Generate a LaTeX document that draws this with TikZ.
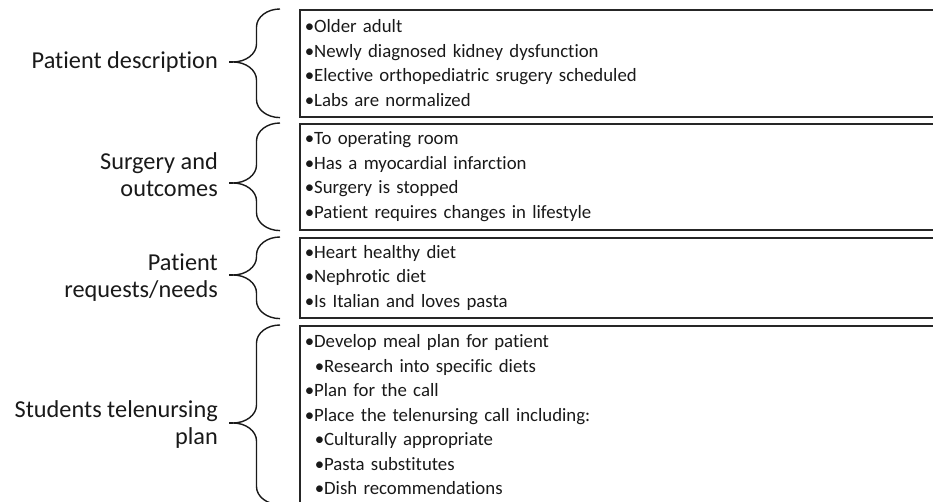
\documentclass[tikz,border=0pt]{standalone}
\usepackage{fontspec}
\setmainfont{Carlito}[Ligatures=NoCommon]
\usetikzlibrary{calc}
\tikzset{
  tnbox/.style={
    rectangle, draw=black!85, line width=1.6pt, anchor=north west,
    text width=630pt, inner xsep=5pt, inner ysep=0pt,
    align=left, font=\fontsize{18.8}{24.5}\selectfont
  },
  tnlabel/.style={anchor=east, align=right, inner sep=0pt, font=\fontsize{24.3}{27}\selectfont},
  tnbrace/.style={draw=black!90, line width=1.4pt},
}

\begin{document}
\begin{tikzpicture}[x=1pt, y=1pt, text=black!90]
  \path[use as bounding box, clip] (0,0) rectangle (933,502);
  % boxes on the right
  \node (b1) [tnbox, minimum height=107pt] at (299,493) {•Older adult\\•Newly diagnosed kidney dysfunction\\•Elective orthopediatric srugery scheduled\\•Labs are normalized};
  \node (b2) [tnbox, minimum height=106pt] at (299,379) {•To operating room\\•Has a myocardial infarction\\•Surgery is stopped\\•Patient requires changes in lifestyle};
  \node (b3) [tnbox, minimum height=80pt] at (299,265) {•Heart healthy diet\\•Nephrotic diet\\•Is Italian and loves pasta};
  \node (b4) [tnbox, minimum height=178pt] at (299,177) {•Develop meal plan for patient\\\hspace*{10pt}•Research into specific diets\\•Plan for the call\\•Place the telenursing call including:\\\hspace*{10pt}•Culturally appropriate\\\hspace*{10pt}•Pasta substitutes\\\hspace*{10pt}•Dish recommendations};
  % labels on the left
  \node (l1) [tnlabel] at (218,440) {Patient description};
  \node (l2) [tnlabel] at (218,327) {Surgery and\\outcomes};
  \node (l3) [tnlabel] at (218,224) {Patient\\requests/needs};
  \node (l4) [tnlabel] at (218,77) {Students telenursing\\plan};
  \coordinate (t1) at (233,440);
  \coordinate (t2) at (233,319);
  \coordinate (t3) at (233,227);
  \coordinate (t4) at (233,79);
  % braces
  \foreach \b/\t in {b1/t1, b2/t2, b3/t3, b4/t4}{
    \draw[tnbrace] ($(\b.north west)+(-19,0)$)
      arc[start angle=90, end angle=180, x radius=23.5, y radius=18]
      -- ($(\t)+(23.5,18)$)
      arc[start angle=0, end angle=-90, x radius=23.5, y radius=18]
      arc[start angle=90, end angle=0, x radius=23.5, y radius=18]
      -- ($(\b.south west)+(-42.5,18)$)
      arc[start angle=180, end angle=270, x radius=23.5, y radius=18];
    \draw[tnbrace] (\t) -- ++(-4,0);
  }
\end{tikzpicture}
\end{document}
